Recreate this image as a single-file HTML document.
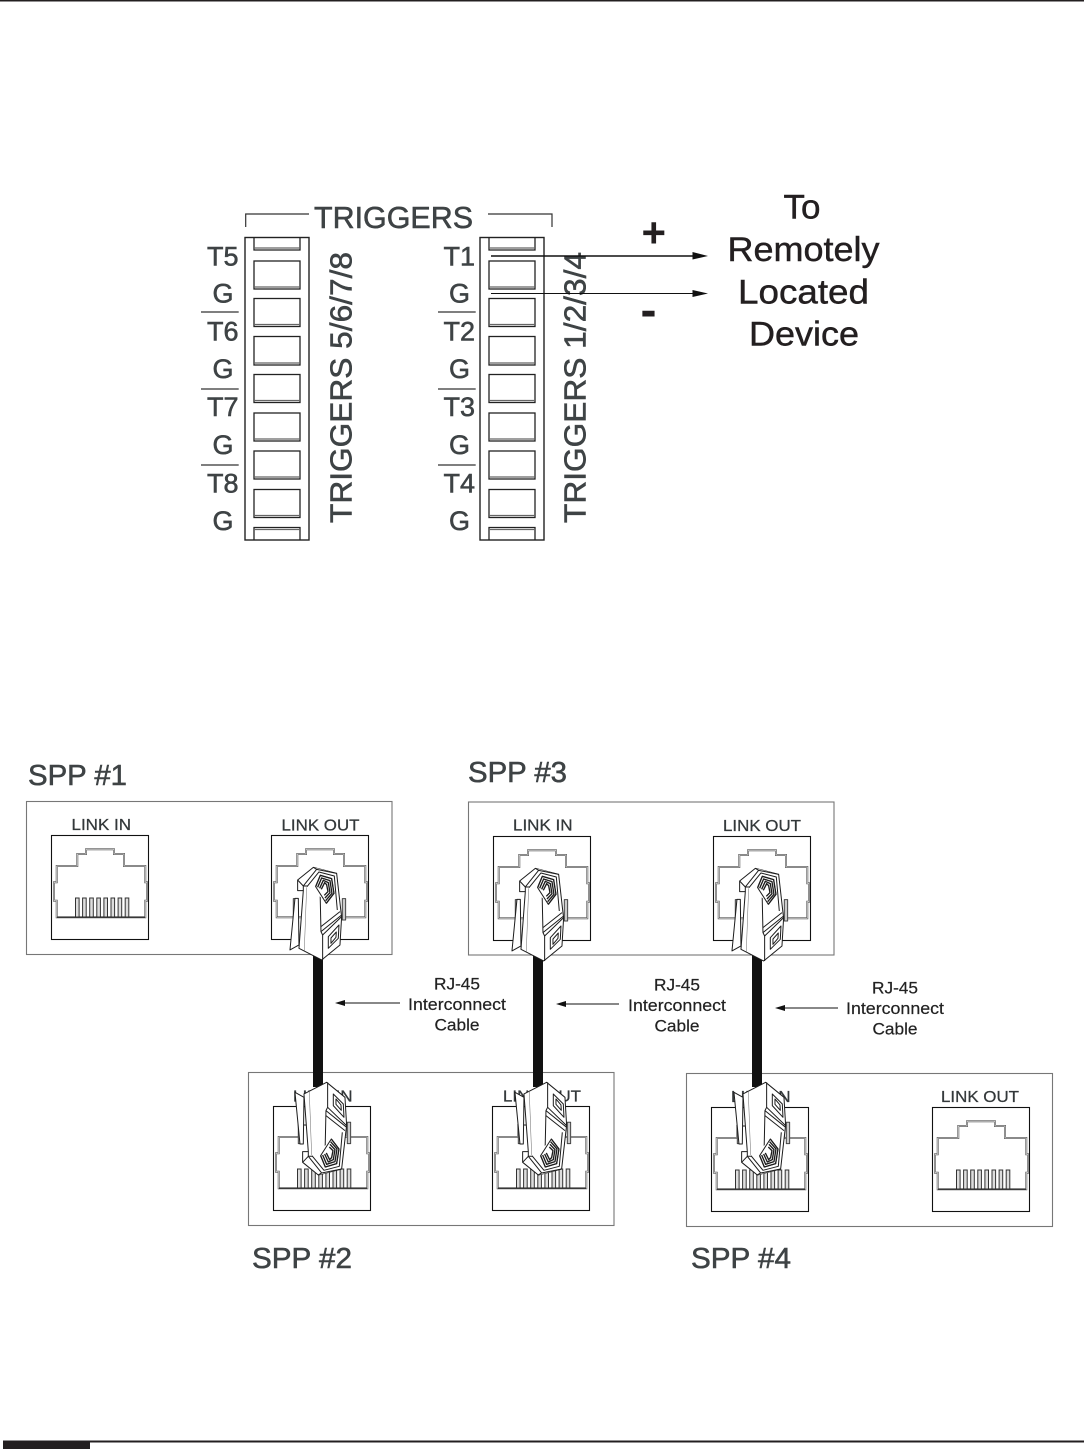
<!DOCTYPE html>
<html>
<head>
<meta charset="utf-8">
<style>
html,body{margin:0;padding:0;background:#fff;}
svg{display:block;}
text{font-family:"Liberation Sans",sans-serif;}
.lab{fill:#3e4345;stroke:#3e4345;stroke-width:.55px;font-size:27px;}
.sm{fill:#33383a;stroke:#33383a;stroke-width:.25px;font-size:16px;}
.dk{fill:#231f20;stroke:#231f20;stroke-width:.45px;}
.cb{fill:#222;stroke:#222;stroke-width:.2px;}
</style>
</head>
<body>
<svg width="1084" height="1449" viewBox="0 0 1084 1449" xmlns="http://www.w3.org/2000/svg">
<defs>
  <g id="strip">
    <rect x="0" y="0" width="64" height="302.500" fill="#fff" stroke="#222" stroke-width="1.400"/>
    <g fill="none" stroke="#222" stroke-width="1.300">
      <path d="M9 0V12.500H55V0"/><path d="M9 10.500H55" stroke="#666"/>
      <rect x="9" y="23.500" width="46" height="28"/><path d="M9 49.500H55" stroke="#666"/>
      <rect x="9" y="61" width="46" height="28"/><path d="M9 87H55" stroke="#666"/>
      <rect x="9" y="99" width="46" height="28.500"/><path d="M9 125.500H55" stroke="#666"/>
      <rect x="9" y="137" width="46" height="28"/><path d="M9 163H55" stroke="#666"/>
      <rect x="9" y="175.500" width="46" height="28"/><path d="M9 201.500H55" stroke="#666"/>
      <rect x="9" y="213.500" width="46" height="28"/><path d="M9 239.500H55" stroke="#666"/>
      <rect x="9" y="252" width="46" height="28"/><path d="M9 278H55" stroke="#666"/>
      <path d="M9 302.500V290H55V302.500"/><path d="M9 292H55" stroke="#666"/>
    </g>
  </g>
  <path id="jo" d="M35 14.300H63V19H73V31H94.300V47.300H96V65.700H94.300V82.300H5.700V65.700H3V47.300H5.700V31H26.300V19H35Z"/>
  <g id="jack">
    <rect x="0.500" y="0.500" width="97" height="104" fill="#fff" stroke="#111" stroke-width="1.100"/>
    <use href="#jo" fill="none" stroke="#555" stroke-width="1.900"/>
    <use href="#jo" fill="none" stroke="#e4e4e4" stroke-width="0.700"/>
  </g>
  <g id="pins" fill="#ddd" stroke="#333" stroke-width="1">
    <rect x="24.500" y="63" width="3.600" height="19"/><rect x="31.600" y="63" width="3.600" height="19"/>
    <rect x="38.700" y="63" width="3.600" height="19"/><rect x="45.800" y="63" width="3.600" height="19"/>
    <rect x="52.900" y="63" width="3.600" height="19"/><rect x="60" y="63" width="3.600" height="19"/>
    <rect x="67.100" y="63" width="3.600" height="19"/><rect x="74.200" y="63" width="3.600" height="19"/>
    <path d="M6 82.300H94" stroke="#222" fill="none"/>
  </g>
  <g id="plug" stroke="#1c1c1c" stroke-width="3" fill="#fff" stroke-linejoin="round">
    <g transform="translate(795,180)">
      <rect x="25" y="116" width="10" height="64" fill="#ccc" stroke="#444"/>
      <rect x="172" y="116" width="10" height="64" fill="#ccc" stroke="#444"/>
      <path d="M30 115L15 270L42 255L40 115Z"/>
      <path d="M38 60L85 22L155 40L168 155L170 170L165 255L110 300L42 265L55 92H38Z"/>
      <path d="M38 60L55 78V92M55 78H105L108 215L113 225V300"/>
      <path d="M55 78L95 28M66 80L102 36L148 48L157 150M85 22L95 28L155 40"/>
      <path d="M65 82L58 272" fill="none" stroke-width="1.500" stroke="#666"/>
      <path d="M92 80L106 46L140 56L147 100L124 130Z" fill="#fff"/>
      <path d="M92 80L106 46L140 56L147 100L124 130M98 82L110 54L135 62L141 100L122 122M104 85L115 61L130 68L135 98L120 114M109 88L119 68L125 74L129 95L118 106" fill="none" stroke-width="4"/>
      <path d="M108 200L165 155M108 215L170 165M113 225L170 170"/>
      <path d="M130 230L162 195L160 235L130 265ZM138 234L154 216L153 232L138 250Z"/>
    </g>
  </g>
</defs>

<rect width="1084" height="1449" fill="#fff"/>
<rect x="0" y="0" width="1084" height="1.500" fill="#231f20"/>
<rect x="3" y="1440.500" width="1081" height="2" fill="#231f20"/>
<rect x="3" y="1440.500" width="87" height="8.500" fill="#231f20"/>

<!-- Terminal strips -->
<use href="#strip" x="245" y="237.500"/>
<use href="#strip" x="480" y="237.500"/>
<path d="M245.700 227V214H309M488 214H552V227" fill="none" stroke="#333" stroke-width="1.200"/>
<text x="314" y="228" class="lab" style="font-size:31px" textLength="159" lengthAdjust="spacingAndGlyphs">TRIGGERS</text>

<text x="207" y="265.500" class="lab">T5</text>
<text x="212.500" y="302.500" class="lab">G</text>
<text x="207" y="340.500" class="lab">T6</text>
<text x="212.500" y="378" class="lab">G</text>
<text x="207" y="416" class="lab">T7</text>
<text x="212.500" y="454" class="lab">G</text>
<text x="207" y="492.500" class="lab">T8</text>
<text x="212.500" y="530" class="lab">G</text>
<text x="443.500" y="265.500" class="lab">T1</text>
<text x="449" y="302.500" class="lab">G</text>
<text x="443.500" y="340.500" class="lab">T2</text>
<text x="449" y="378" class="lab">G</text>
<text x="443.500" y="416" class="lab">T3</text>
<text x="449" y="454" class="lab">G</text>
<text x="443.500" y="492.500" class="lab">T4</text>
<text x="449" y="530" class="lab">G</text>
<path d="M201 312H238.700M201 389H238.700M201 465H238.700M438 312H475.700M438 389H475.700M438 465H475.700" stroke="#333" stroke-width="1.200" fill="none"/>

<text transform="translate(351.500,523) rotate(-90)" class="lab" style="font-size:31px" textLength="271" lengthAdjust="spacingAndGlyphs">TRIGGERS 5/6/7/8</text>
<text transform="translate(585.500,523) rotate(-90)" class="lab" style="font-size:31px" textLength="271" lengthAdjust="spacingAndGlyphs">TRIGGERS 1/2/3/4</text>

<!-- Wires -->
<path d="M491 256H694" stroke="#111" stroke-width="1.500" fill="none"/>
<path d="M491 293.500H694" stroke="#111" stroke-width="1" fill="none"/>
<path d="M692.500 252L708 256L692.500 259.500Z" fill="#111"/>
<path d="M692.500 290L708 293.500L692.500 297Z" fill="#111"/>
<text x="641.500" y="247" font-size="42" font-weight="bold" style="fill:#231f20">+</text>
<text x="640.500" y="326" font-size="48" font-weight="bold" style="fill:#231f20">-</text>

<g font-size="34" text-anchor="middle">
<text class="dk" x="802" y="218.500" textLength="37" lengthAdjust="spacingAndGlyphs">To</text>
<text class="dk" x="803.500" y="261" textLength="152" lengthAdjust="spacingAndGlyphs">Remotely</text>
<text class="dk" x="803.500" y="303.500" textLength="131" lengthAdjust="spacingAndGlyphs">Located</text>
<text class="dk" x="804" y="345.500" textLength="110" lengthAdjust="spacingAndGlyphs">Device</text>
</g>

<!-- SPP labels -->
<g font-size="29">
<text class="lab" style="font-size:29px" x="28" y="785" textLength="99" lengthAdjust="spacingAndGlyphs">SPP #1</text>
<text class="lab" style="font-size:29px" x="468" y="782" textLength="99" lengthAdjust="spacingAndGlyphs">SPP #3</text>
<text class="lab" style="font-size:29px" x="252" y="1268" textLength="100" lengthAdjust="spacingAndGlyphs">SPP #2</text>
<text class="lab" style="font-size:29px" x="691" y="1268" textLength="100" lengthAdjust="spacingAndGlyphs">SPP #4</text>
</g>

<!-- Panels -->
<g fill="#fff" stroke="#777" stroke-width="1.100">
<rect x="26.500" y="801.500" width="365.500" height="153"/>
<rect x="468.500" y="802" width="365.500" height="153"/>
<rect x="248.500" y="1072.500" width="365.500" height="153"/>
<rect x="686.500" y="1073.500" width="366" height="153"/>
</g>

<!-- Link text -->
<text x="71.500" y="830" class="sm" textLength="59.500" lengthAdjust="spacingAndGlyphs">LINK IN</text>
<text x="281.500" y="830.500" class="sm" textLength="78" lengthAdjust="spacingAndGlyphs">LINK OUT</text>
<text x="513" y="830.500" class="sm" textLength="59.500" lengthAdjust="spacingAndGlyphs">LINK IN</text>
<text x="723" y="831" class="sm" textLength="78" lengthAdjust="spacingAndGlyphs">LINK OUT</text>
<text x="293" y="1101.500" class="sm" textLength="59.500" lengthAdjust="spacingAndGlyphs">LINK IN</text>
<text x="503" y="1101.500" class="sm" textLength="78" lengthAdjust="spacingAndGlyphs">LINK OUT</text>
<text x="731" y="1102" class="sm" textLength="59.500" lengthAdjust="spacingAndGlyphs">LINK IN</text>
<text x="941" y="1102" class="sm" textLength="78" lengthAdjust="spacingAndGlyphs">LINK OUT</text>

<!-- Jacks -->
<use href="#jack" x="51" y="835"/><use href="#pins" x="51" y="835"/>
<use href="#jack" x="271" y="835"/>
<use href="#jack" x="493" y="836"/>
<use href="#jack" x="713" y="836"/>
<use href="#jack" x="273" y="1106"/><use href="#pins" x="273" y="1106"/>
<use href="#jack" x="492" y="1106"/><use href="#pins" x="492" y="1106"/>
<use href="#jack" x="711" y="1107"/><use href="#pins" x="711" y="1107"/>
<use href="#jack" x="932" y="1107"/><use href="#pins" x="932" y="1107"/>

<!-- Cables -->
<rect x="313" y="955" width="10" height="132" fill="#111"/>
<rect x="533" y="955" width="10" height="132" fill="#111"/>
<rect x="752" y="955" width="10" height="132" fill="#111"/>

<!-- Plugs -->
<use href="#plug" transform="translate(20,800) scale(0.3333)"/>
<use href="#plug" transform="translate(242,801) scale(0.3333)"/>
<use href="#plug" transform="translate(462,801) scale(0.3333)"/>
<use href="#plug" transform="translate(25,1242.300) scale(0.3333,-0.3333)"/>
<use href="#plug" transform="translate(245,1242.300) scale(0.3333,-0.3333)"/>
<use href="#plug" transform="translate(464,1242.300) scale(0.3333,-0.3333)"/>

<!-- Callouts -->
<g font-size="17" text-anchor="middle">
<text class="cb" x="457" y="989.500" textLength="46" lengthAdjust="spacingAndGlyphs">RJ-45</text>
<text class="cb" x="457" y="1010" textLength="98" lengthAdjust="spacingAndGlyphs">Interconnect</text>
<text class="cb" x="457" y="1030.500" textLength="45" lengthAdjust="spacingAndGlyphs">Cable</text>
<text class="cb" x="677" y="990.500" textLength="46" lengthAdjust="spacingAndGlyphs">RJ-45</text>
<text class="cb" x="677" y="1011" textLength="98" lengthAdjust="spacingAndGlyphs">Interconnect</text>
<text class="cb" x="677" y="1031.500" textLength="45" lengthAdjust="spacingAndGlyphs">Cable</text>
<text class="cb" x="895" y="993.500" textLength="46" lengthAdjust="spacingAndGlyphs">RJ-45</text>
<text class="cb" x="895" y="1014" textLength="98" lengthAdjust="spacingAndGlyphs">Interconnect</text>
<text class="cb" x="895" y="1034.500" textLength="45" lengthAdjust="spacingAndGlyphs">Cable</text>
</g>
<g fill="none" stroke="#111" stroke-width="1">
<path d="M344 1003H400M565 1004H619M784 1008H838"/>
</g>
<g fill="#111">
<path d="M335 1003L345 1000V1006Z"/>
<path d="M556 1004L566 1001V1007Z"/>
<path d="M775 1008L785 1005V1011Z"/>
</g>
</svg>
</body>
</html>
